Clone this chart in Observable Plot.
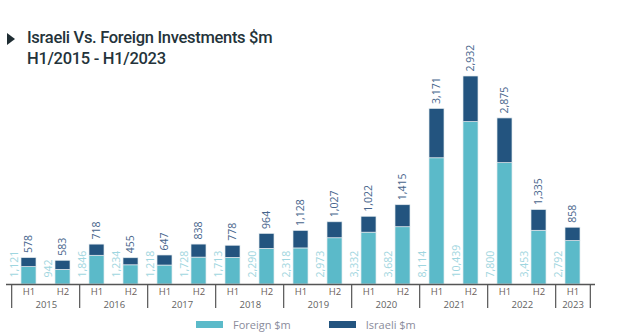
<!DOCTYPE html>
<html>
<head>
<meta charset="utf-8">
<script src="https://cdn.jsdelivr.net/npm/d3@7"></script>
<script src="https://cdn.jsdelivr.net/npm/@observablehq/plot@0.6"></script>
<style>
  html, body { margin: 0; padding: 0; background: #fff; }
  #wrap { position: relative; width: 617px; height: 335px; overflow: hidden; }
  #chart { position: absolute; left: 0; top: 0; }
  #tri { position: absolute; left: 7px; top: 33px; width: 0; height: 0;
         border-left: 8px solid #1f2d33; border-top: 6.5px solid transparent; border-bottom: 6.5px solid transparent; }
  #title { position: absolute; left: 27px; top: 27px; font-family: Roboto, sans-serif; font-weight: 500;
           font-size: 16.5px; line-height: 21px; color: #24333a; letter-spacing: -0.3px; }
  #legend { position: absolute; left: 196px; top: 317px; display: flex; align-items: center;
            font-family: "Open Sans", sans-serif; font-size: 11px; color: #8a8b9b; }
  .sw { width: 27px; height: 7px; display: inline-block; margin-right: 10px; }
  .item { display: flex; align-items: center; margin-right: 38px; }
</style>
</head>
<body>
<div id="wrap">
  <div id="chart"></div>
  <div id="tri"></div>
  <div id="title">Israeli Vs. Foreign Investments $m<br>H1/2015 - H1/2023</div>
  <div id="legend"></div>
</div>
<script>
const periods = ["2015 H1","2015 H2","2016 H1","2016 H2","2017 H1","2017 H2","2018 H1","2018 H2",
  "2019 H1","2019 H2","2020 H1","2020 H2","2021 H1","2021 H2","2022 H1","2022 H2","2023 H1"];
const foreign = [1121, 942, 1846, 1234, 1218, 1728, 1713, 2290, 2318, 2973, 3332, 3682, 8114, 10439, 7800, 3453, 2792];
const israeli = [578, 583, 718, 455, 647, 838, 778, 964, 1128, 1027, 1022, 1415, 3171, 2932, 2875, 1335, 858];
const seriesNames = ["Foreign $m", "Israeli $m"];
const seriesColors = ["#5bbac9", "#23547f"];

const rows = periods.map((p, i) => ({
  p, year: p.split(" ")[0], half: p.split(" ")[1],
  foreign: foreign[i], israeli: israeli[i], total: foreign[i] + israeli[i]
}));
const long = rows.flatMap(r => [
  {p: r.p, series: seriesNames[0], value: r.foreign},
  {p: r.p, series: seriesNames[1], value: r.israeli}
]);
const yearRows = d3.groups(rows, r => r.year).map(([year, rs]) => ({year, first: rs[0].p, last: rs[rs.length-1].p, n: rs.length}));

const W = 617, H = 335, mL = 6, mR = 22, mT = 76, mB = 51;
const step = (W - mL - mR) / periods.length;
const fmt = d3.format(",");
const font = "Open Sans";

const chart = Plot.plot({
  width: W, height: H,
  marginLeft: mL, marginRight: mR, marginTop: mT, marginBottom: mB,
  style: {fontFamily: font, background: "transparent"},
  x: {type: "band", domain: periods, paddingInner: 0.567, paddingOuter: 0.2835, axis: null},
  y: {domain: [0, d3.max(rows, r => r.total)], axis: null},
  color: {domain: seriesNames, range: seriesColors},
  marks: [
    Plot.barY(long, {x: "p", y: "value", fill: "series", stroke: "#e3eaee", strokeWidth: 0.7}),
    Plot.ruleY([0], {stroke: "#555", strokeWidth: 1.5}),
    Plot.ruleX(yearRows, {x: "first", dx: -step/2, y1: 0, y2: 0, insetBottom: -24, stroke: "#555", strokeWidth: 1.2}),
    Plot.ruleX(yearRows.slice(-1), {x: "last", dx: step/2, y1: 0, y2: 0, insetBottom: -24, stroke: "#555", strokeWidth: 1.2}),
    Plot.text(rows, {x: "p", y: 0, text: "half", dy: 7, fontSize: 9.5, fill: "#6b5d57"}),
    Plot.text(yearRows.filter(d => d.n === 2), {x: "first", y: 0, text: "year", dx: step/2, dy: 20, fontSize: 9.5, fill: "#626262"}),
    Plot.text(yearRows.filter(d => d.n === 1), {x: "first", y: 0, text: "year", dy: 20, fontSize: 9.5, fill: "#626262"}),
    Plot.text(rows, {x: "p", y: "total", text: d => fmt(d.israeli), rotate: -90, textAnchor: "start", dy: -5, fontSize: 10.5, fill: "#47658c"}),
    Plot.text(rows, {x: "p", y: 0, text: d => fmt(d.foreign), rotate: -90, textAnchor: "start", dx: -14, dy: -7, fontSize: 10.5, fill: "#9fd6e0"})
  ]
});
document.getElementById("chart").appendChild(chart);

const legend = document.getElementById("legend");
seriesNames.forEach((s, i) => {
  const item = document.createElement("div");
  item.className = "item";
  item.innerHTML = `<span class="sw" style="background:${seriesColors[i]}"></span><span>${s}</span>`;
  legend.appendChild(item);
});
</script>
</body>
</html>
